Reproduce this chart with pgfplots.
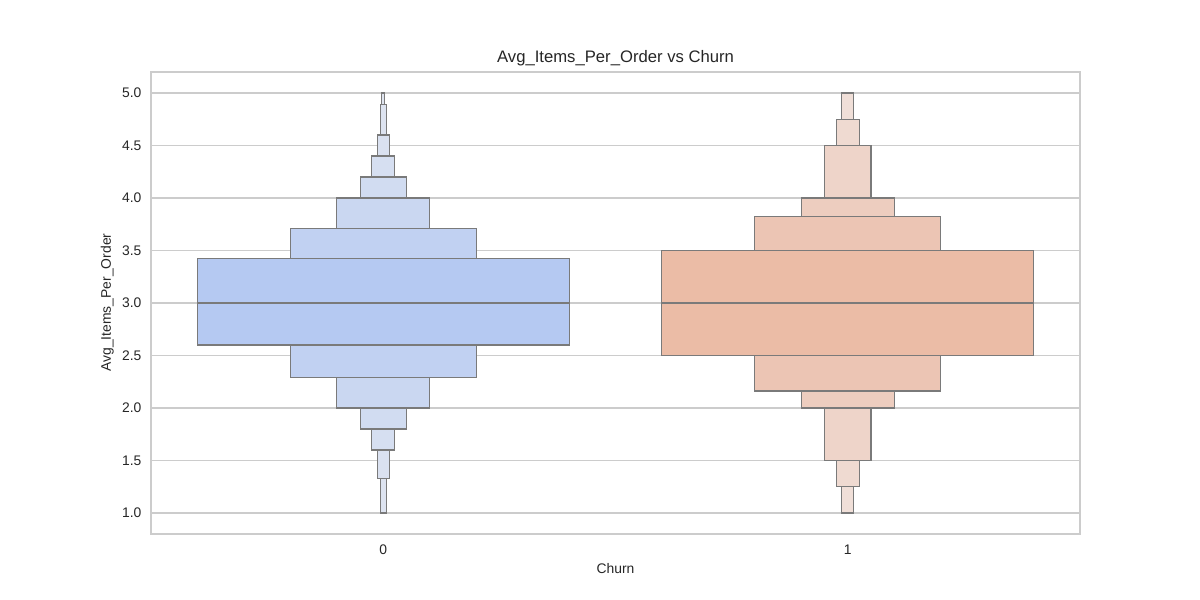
\documentclass[border=0pt]{standalone}
\usepackage{fontspec}
\setmainfont{Liberation Sans}
\usepackage{pgfplots}
\pgfplotsset{compat=1.18}
\definecolor{gridgray}{HTML}{CCCCCC}
\definecolor{textgray}{HTML}{262626}
\definecolor{edgegray}{HTML}{7A7A7A}
% blue levels (inner -> outer)
\definecolor{bA}{HTML}{B5C9F2}
\definecolor{bB}{HTML}{C1D1F2}
\definecolor{bC}{HTML}{CAD7F1}
\definecolor{bD}{HTML}{D1DCF1}
\definecolor{bE}{HTML}{D6DFF1}
\definecolor{bF}{HTML}{DAE1F0}
\definecolor{bG}{HTML}{DDE3F0}
\definecolor{bH}{HTML}{DFE4EF}
% orange levels (inner -> outer)
\definecolor{oA}{HTML}{EBBCA6}
\definecolor{oB}{HTML}{ECC5B4}
\definecolor{oC}{HTML}{EDCDBF}
\definecolor{oD}{HTML}{EED4C9}
\definecolor{oE}{HTML}{EFDAD1}
\definecolor{oF}{HTML}{F0DFD8}
\begin{document}
\begin{tikzpicture}
\path[use as bounding box] (0bp,0bp) rectangle (864bp,432bp);
\begin{axis}[
  at={(108.72bp,47.52bp)}, anchor=south west,
  width=668.88bp, height=332.64bp, scale only axis,
  xmin=-0.5, xmax=1.5, ymin=0.8, ymax=5.2,
  xtick={0,1}, xticklabels={0,1},
  ytick={1,1.5,2,2.5,3,3.5,4,4.5,5},
  yticklabel={\pgfmathprintnumber[fixed,fixed zerofill,precision=1]{\tick}},
  ymajorgrids, grid style={color=gridgray, line width=0.8bp},
  axis line style={color=gridgray, line width=0.9bp},
  major tick length=0pt,
  tick label style={font=\fontsize{10bp}{12bp}\selectfont, text=textgray},
  /pgf/number format/assume math mode=true,
  yticklabel style={inner sep=0pt, xshift=-6.7bp},
  xticklabel style={inner sep=0pt, yshift=-7.5bp},
  no markers,
  box/.style={draw=edgegray, line width=0.75bp, solid, line join=miter},
]
% ---- Churn = 0 ----
\addplot[box, fill=bH] coordinates {(-0.003125,1.0) (0.003125,1.0) (0.003125,5.0) (-0.003125,5.0)} -- cycle;
\addplot[box, fill=bG] coordinates {(-0.00625,1.0) (0.00625,1.0) (0.00625,4.886) (-0.00625,4.886)} -- cycle;
\addplot[box, fill=bF] coordinates {(-0.0125,1.333) (0.0125,1.333) (0.0125,4.6) (-0.0125,4.6)} -- cycle;
\addplot[box, fill=bE] coordinates {(-0.025,1.6) (0.025,1.6) (0.025,4.4) (-0.025,4.4)} -- cycle;
\addplot[box, fill=bD] coordinates {(-0.05,1.8) (0.05,1.8) (0.05,4.2) (-0.05,4.2)} -- cycle;
\addplot[box, fill=bC] coordinates {(-0.1,2.0) (0.1,2.0) (0.1,4.0) (-0.1,4.0)} -- cycle;
\addplot[box, fill=bB] coordinates {(-0.2,2.286) (0.2,2.286) (0.2,3.714) (-0.2,3.714)} -- cycle;
\addplot[box, fill=bA] coordinates {(-0.4,2.6) (0.4,2.6) (0.4,3.42) (-0.4,3.42)} -- cycle;
\addplot[box] coordinates {(-0.4,3.0) (0.4,3.0)};
% ---- Churn = 1 ----
\addplot[box, fill=oF] coordinates {(0.9875,1.0) (1.0125,1.0) (1.0125,5.0) (0.9875,5.0)} -- cycle;
\addplot[box, fill=oE] coordinates {(0.975,1.25) (1.025,1.25) (1.025,4.75) (0.975,4.75)} -- cycle;
\addplot[box, fill=oD] coordinates {(0.95,1.5) (1.05,1.5) (1.05,4.5) (0.95,4.5)} -- cycle;
\addplot[box, fill=oC] coordinates {(0.9,2.0) (1.1,2.0) (1.1,4.0) (0.9,4.0)} -- cycle;
\addplot[box, fill=oB] coordinates {(0.8,2.162) (1.2,2.162) (1.2,3.826) (0.8,3.826)} -- cycle;
\addplot[box, fill=oA] coordinates {(0.6,2.5) (1.4,2.5) (1.4,3.5) (0.6,3.5)} -- cycle;
\addplot[box] coordinates {(0.6,3.0) (1.4,3.0)};
\end{axis}
\node[font=\fontsize{12bp}{14bp}\selectfont, text=textgray, inner sep=0pt] at (443.2bp,390.2bp) {Avg\_Items\_Per\_Order vs Churn};
\node[font=\fontsize{10bp}{12bp}\selectfont, text=textgray, inner sep=0pt, rotate=90] at (77.3bp,214.2bp) {Avg\_Items\_Per\_Order};
\node[font=\fontsize{10bp}{12bp}\selectfont, text=textgray, inner sep=0pt] at (443.2bp,22.3bp) {Churn};
\end{tikzpicture}
\end{document}
